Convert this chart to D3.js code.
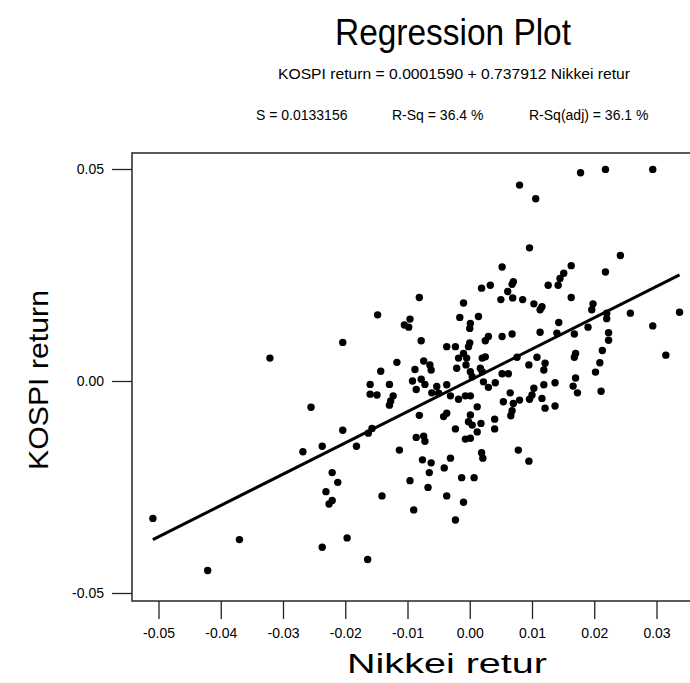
<!DOCTYPE html>
<html><head><meta charset="utf-8">
<script src="https://cdn.jsdelivr.net/npm/d3@7"></script>
<style>
html,body{margin:0;padding:0;background:#fff;}
svg{display:block;font-family:"Liberation Sans",Arial,sans-serif;}
</style></head>
<body><svg id="c" width="690" height="683"></svg>
<script>
// ---- data ----
const title = "Regression Plot";
const equationText = "KOSPI return = 0.0001590 + 0.737912 Nikkei retur";
const statsText = ["S = 0.0133156", "R-Sq = 36.4 %", "R-Sq(adj) = 36.1 %"];
const xLabel = "Nikkei retur";
const yLabel = "KOSPI return";
const xTicks = [-0.05,-0.04,-0.03,-0.02,-0.01,0.00,0.01,0.02,0.03];
const yTicks = [-0.05,0.00,0.05];
const intercept = 0.0001590;
const slope = 0.737912;
const nikkei = [
 0.0178,0.0218,0.0294,0.0080,0.0106,0.0096,0.0242,0.0163,0.0052,0.0151,
 0.0218,0.0145,0.0142,0.0126,0.0019,0.0033,0.0070,0.0068,0.0061,0.0050,
 0.0069,0.0085,-0.0081,-0.0010,0.0103,0.0116,0.0163,0.0198,0.0337,0.0294,
 0.0315,0.0258,0.0196,0.0220,0.0220,0.0190,0.0168,0.0223,0.0223,0.0213,
 0.0170,0.0168,0.0209,0.0202,0.0170,0.0166,0.0173,0.0211,0.0143,0.0113,
 -0.0148,-0.0096,-0.0105,-0.0098,-0.0204,-0.0078,-0.0321,-0.0117,-0.0074,-0.0064,
 -0.0062,-0.0143,-0.0088,-0.0160,-0.0129,-0.0092,-0.0078,-0.0072,-0.0086,-0.0160,
 -0.0149,-0.0123,-0.0127,-0.0129,-0.0255,-0.0061,-0.0050,-0.0081,-0.0016,0.0014,
 0.0001,0.0000,0.0030,0.0025,0.0052,0.0068,0.0113,0.0140,-0.0037,-0.0023,
 0.0000,-0.0002,-0.0010,-0.0018,-0.0021,-0.0005,-0.0006,0.0020,0.0025,0.0076,
 0.0108,0.0095,0.0121,0.0119,0.0017,0.0020,0.0001,0.0004,0.0052,0.0062,
 0.0022,0.0030,0.0041,0.0119,0.0137,-0.0053,-0.0037,0.0103,0.0100,0.0096,
 0.0065,0.0001,-0.0007,-0.0018,0.0116,0.0054,0.0070,0.0080,0.0012,0.0121,
 0.0137,0.0068,-0.0037,-0.0042,0.0001,-0.0031,-0.0002,0.0004,0.0018,0.0012,
 0.0001,-0.0007,-0.0023,0.0040,0.0040,0.0066,-0.0268,-0.0237,-0.0204,-0.0182,
 -0.0157,-0.0163,-0.0113,-0.0086,-0.0074,-0.0072,0.0019,0.0021,-0.0076,-0.0062,
 -0.0065,-0.0031,-0.0041,-0.0221,-0.0212,-0.0231,-0.0221,-0.0226,-0.0096,-0.0067,
 -0.0013,0.0007,-0.0141,-0.0037,-0.0010,-0.0090,-0.0023,-0.0197,-0.0237,-0.0164,
 -0.0509,-0.0421,-0.0370,0.0078,0.0095
];
const kospi = [
 0.0491,0.0499,0.0499,0.0462,0.0430,0.0314,0.0296,0.0272,0.0269,0.0254,
 0.0257,0.0242,0.0226,0.0226,0.0219,0.0226,0.0234,0.0228,0.0211,0.0192,
 0.0196,0.0192,0.0197,0.0184,0.0182,0.0175,0.0197,0.0182,0.0162,0.0130,
 0.0061,0.0160,0.0168,0.0160,0.0147,0.0127,0.0111,0.0114,0.0096,0.0072,
 0.0065,0.0056,0.0043,0.0021,0.0007,-0.0012,-0.0028,-0.0024,0.0138,0.0168,
 0.0156,0.0146,0.0132,0.0127,0.0091,0.0095,0.0054,0.0044,0.0047,0.0038,
 0.0026,0.0023,0.0027,-0.0008,-0.0008,0.0000,0.0004,-0.0008,-0.0020,-0.0031,
 -0.0033,-0.0035,-0.0047,-0.0057,-0.0062,-0.0028,-0.0029,-0.0081,0.0150,0.0152,
 0.0136,0.0124,0.0105,0.0095,0.0105,0.0111,0.0115,0.0113,0.0081,0.0081,
 0.0090,0.0081,0.0065,0.0054,0.0030,0.0054,0.0038,0.0054,0.0057,0.0056,
 0.0056,0.0038,0.0042,0.0026,0.0030,0.0022,0.0022,0.0010,0.0017,0.0017,
 -0.0002,-0.0015,-0.0004,-0.0009,-0.0004,-0.0013,-0.0009,-0.0017,-0.0033,-0.0043,
 -0.0028,-0.0035,-0.0035,-0.0043,-0.0041,-0.0049,-0.0053,-0.0045,-0.0061,-0.0064,
 -0.0059,-0.0070,-0.0076,-0.0084,-0.0080,-0.0035,-0.0096,-0.0104,-0.0100,-0.0120,
 -0.0135,-0.0137,-0.0113,-0.0090,-0.0113,-0.0082,-0.0167,-0.0154,-0.0116,-0.0154,
 -0.0112,-0.0123,-0.0163,-0.0133,-0.0130,-0.0142,-0.0169,-0.0182,-0.0186,-0.0193,
 -0.0216,-0.0182,-0.0205,-0.0216,-0.0239,-0.0261,-0.0282,-0.0290,-0.0235,-0.0251,
 -0.0228,-0.0228,-0.0271,-0.0271,-0.0286,-0.0304,-0.0328,-0.0370,-0.0392,-0.0421,
 -0.0324,-0.0447,-0.0374,-0.0163,-0.0189
];

// ---- chart ----
const svg = d3.select("#c");
const frame = {left:132, top:153, right:702, bottom:601};
const x = d3.scaleLinear().domain([-0.05, 0.03]).range([158.5, 656.5]);
const y = d3.scaleLinear().domain([-0.05, 0.05]).range([593, 169]);

svg.append("text").attr("x", 453).attr("y", 45).attr("text-anchor","middle")
  .attr("font-size", 36).attr("textLength", 236).attr("lengthAdjust","spacingAndGlyphs")
  .attr("fill","#000").text(title);
svg.append("text").attr("x", 454).attr("y", 79).attr("text-anchor","middle")
  .attr("font-size", 14).attr("textLength", 352).attr("lengthAdjust","spacingAndGlyphs")
  .text(equationText);
const statStart = [256, 392, 529];
statsText.forEach((s,i)=>{
  svg.append("text").attr("x", statStart[i]).attr("y", 120).attr("text-anchor","start")
    .attr("font-size", 14).text(s);
});

// frame
svg.append("rect").attr("x", frame.left).attr("y", frame.top)
  .attr("width", frame.right-frame.left).attr("height", frame.bottom-frame.top)
  .attr("fill","none").attr("stroke","#333").attr("stroke-width",1.6);

// axes
const fmt = d => d.toFixed(2);
const xAxis = svg.append("g").attr("transform", `translate(0,${frame.bottom})`)
  .call(d3.axisBottom(x).tickValues(xTicks).tickFormat(fmt).tickSize(18).tickPadding(9));
const yAxis = svg.append("g").attr("transform", `translate(${frame.left},0)`)
  .call(d3.axisLeft(y).tickValues(yTicks).tickFormat(fmt).tickSize(20).tickPadding(8));
[xAxis, yAxis].forEach(g=>{
  g.select(".domain").remove();
  g.selectAll(".tick line").attr("stroke","#222").attr("stroke-width",1.3);
  g.selectAll(".tick text").attr("font-size",14).attr("font-family","'Liberation Sans',Arial,sans-serif").attr("fill","#000");
});

svg.append("text").attr("x", 447).attr("y", 673).attr("text-anchor","middle")
  .attr("font-size", 27).attr("textLength", 200).attr("lengthAdjust","spacingAndGlyphs").text(xLabel);
svg.append("text").attr("transform","translate(48,380) rotate(-90)").attr("text-anchor","middle")
  .attr("font-size", 28).attr("textLength", 180).attr("lengthAdjust","spacingAndGlyphs").text(yLabel);

// points
const pts = nikkei.map((v,i)=>({x:v, y:kospi[i]}));
svg.append("g").selectAll("circle").data(pts).join("circle")
  .attr("cx", d=>x(d.x)).attr("cy", d=>y(d.y)).attr("r", 3.7).attr("fill","#000");

// regression line
const ext = d3.extent(nikkei);
svg.append("path").datum(ext)
  .attr("d", d3.line().x(d=>x(d)).y(d=>y(intercept + slope*d)))
  .attr("stroke","#000").attr("stroke-width",3).attr("fill","none");
</script></body></html>
